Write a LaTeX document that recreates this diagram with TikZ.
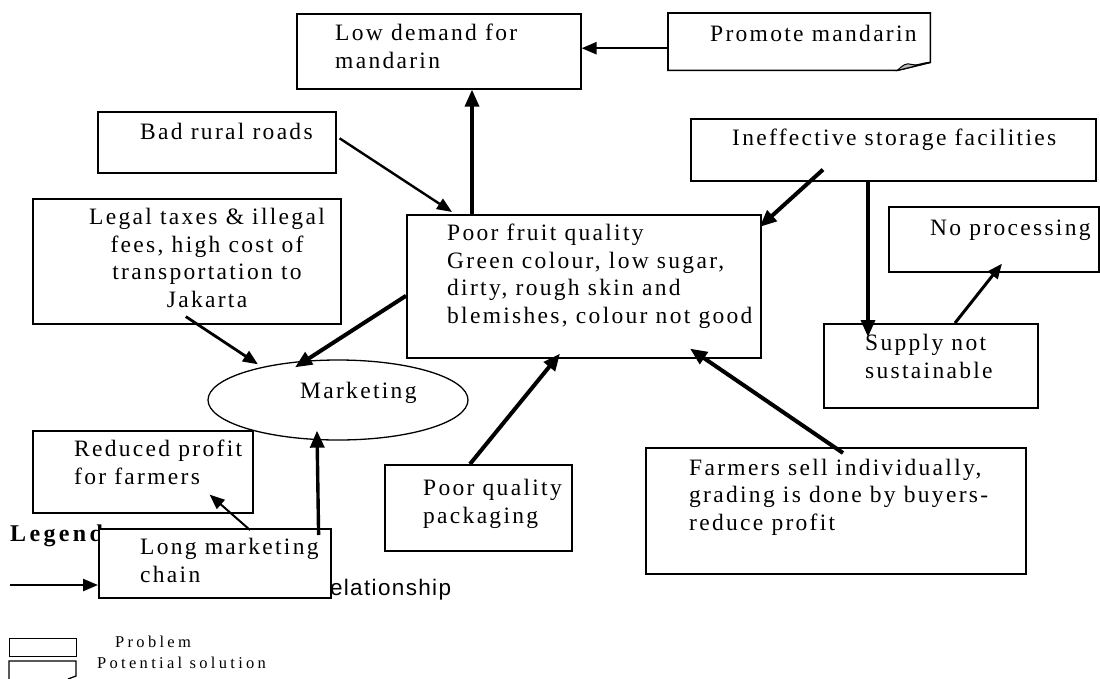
\documentclass[tikz,border=0pt]{standalone}
\usepackage{fontspec}
\setmainfont{Liberation Serif}[LetterSpace=9.8]
\newfontfamily\legfont{Liberation Serif}[LetterSpace=20]
\newfontfamily\legbold{Liberation Serif Bold}[LetterSpace=14]
\newfontfamily\relfont{Liberation Sans}[LetterSpace=6]
\usetikzlibrary{arrows.meta,shapes.geometric}

\tikzset{
  box/.style={draw, line width=1.6pt, fill=white, rectangle, inner sep=0pt, anchor=north west},
  txt/.style={inner sep=0pt, anchor=base west, align=left, font=\fontsize{23.5}{27.5}\selectfont},
  arr/.style={line width=2.4pt, -{Triangle[length=15pt,width=12pt]}},
  heavy/.style={line width=4pt, -{Triangle[length=17pt,width=14pt]}},
  legbox/.style={draw, line width=1.3pt},
}

\begin{document}
\begin{tikzpicture}[x=1pt,y=-1pt]
\useasboundingbox (0,0) rectangle (1100,678);

% legend texts (partly hidden behind the marketing-chain box)
\node[inner sep=0pt, anchor=base west, font=\legbold\fontsize{24}{27}\selectfont] (legend) at (10,541) {Legend};
\node[inner sep=0pt, anchor=base west, font=\relfont\fontsize{22.5}{26}\selectfont] (reltxt) at (321,595) {relationship};
\coordinate (legA) at (10,585);
\coordinate (legB) at (98,585);
\draw[arr] (legA) -- (legB);

% problem boxes (multi-line texts are placed by the baseline of their last line)
\node[box, minimum width=284pt, minimum height=75pt] (low) at (296,13) {};
\node[txt] (lowt) at (335,68) {\fontsize{23.5}{27}\selectfont Low demand for\\mandarin};

\node[minimum width=262pt, minimum height=57pt, inner sep=0pt, anchor=north west] (prom) at (668,13) {};
\draw[line width=1.6pt, fill=white] (prom.north west) -- (prom.north east) -- ([yshift=8pt]prom.south east)
  -- ([xshift=-33pt]prom.south east) -- (prom.south west) -- cycle;
\filldraw[fill=gray!55, line width=1pt] ([xshift=-33pt]prom.south east)
  .. controls ([shift={(-28pt,5pt)}]prom.south east) and ([shift={(-24pt,8pt)}]prom.south east) .. ([shift={(-19pt,6pt)}]prom.south east)
  .. controls ([shift={(-14pt,4pt)}]prom.south east) and ([shift={(-8pt,8pt)}]prom.south east) .. ([yshift=8pt]prom.south east) -- cycle;
\node[txt] (promt) at (710,41) {Promote mandarin};

\node[box, minimum width=238pt, minimum height=61pt] (bad) at (97,111) {};
\node[txt] (badt) at (140,139) {Bad rural roads};

\node[box, minimum width=405pt, minimum height=62pt] (ineff) at (690,118) {};
\node[txt] (inefft) at (732,145) {Ineffective storage facilities};

\node[box, minimum width=354pt, minimum height=143pt] (pf) at (406,214) {};
\node[txt] (pft) at (447,323) {Poor fruit quality\\Green colour, low sugar,\\dirty, rough skin and\\blemishes, colour not good};

\node[box, minimum width=308pt, minimum height=125pt] (legal) at (32,198) {};
\node[txt, anchor=base, align=center] (legalt) at (207,307) {Legal taxes \& illegal\\fees, high cost of\\transportation to\\Jakarta};

\node[box, minimum width=210pt, minimum height=65pt] (nop) at (888,206) {};
\node[txt] (nopt) at (930,235) {No processing};

\node[box, minimum width=214pt, minimum height=84pt] (sup) at (823,323) {};
\node[txt] (supt) at (865,378) {\fontsize{23.5}{26}\selectfont Supply not\\sustainable};

\node[draw, ellipse, line width=1.3pt, minimum width=260pt, minimum height=80pt, inner sep=0pt] (mkt) at (338,400) {};
\node[txt] (mktt) at (300,398) {Marketing};

\node[box, minimum width=220pt, minimum height=82pt] (red) at (32,430) {};
\node[txt] (redt) at (74,484) {\fontsize{23.5}{28}\selectfont Reduced profit\\for farmers};

\node[box, minimum width=232pt, minimum height=69pt] (lmc) at (98,528) {};
\node[txt] (lmct) at (140,582) {Long marketing\\chain};

\node[box, minimum width=187pt, minimum height=86pt] (pack) at (384,464) {};
\node[txt] (packt) at (423,523) {\fontsize{23.5}{30}\selectfont Poor quality\\packaging};

\node[box, minimum width=380pt, minimum height=126pt] (farm) at (645,447) {};
\node[txt] (farmt) at (689,530) {Farmers sell individually,\\grading is done by buyers-\\reduce profit};

% cause-effect connectors
\draw[arr] ([yshift=-6.5pt]prom.west) -- ([yshift=-6.5pt]prom.west -| low.east);
\draw[heavy, line width=3.4pt] ([xshift=176pt]low.south west |- pf.north) -- ([xshift=176pt]low.south west);
\draw[arr] ([shift={(3pt,4pt)}]bad.east) -- ([shift={(46pt,2pt)}]pf.north west);
\draw[heavy] ([shift={(133pt,12pt)}]ineff.south west) -- ([shift={(-2pt,-13pt)}]pf.north east);
\draw[heavy, line width=3.4pt] ([xshift=178pt]ineff.south west) -- ([shift={(45pt,-14pt)}]sup.north west);
\draw[arr, line width=3pt] ([xshift=132pt]sup.north west) -- ([shift={(114pt,9pt)}]nop.south west);
\draw[heavy] ([yshift=-9.5pt]pf.west) -- ([shift={(-43pt,-8pt)}]mkt.north);
\draw[arr, line width=2.8pt] ([shift={(-1pt,8pt)}]legal.south) -- ([shift={(-80pt,-5pt)}]mkt.north);
\draw[heavy, line width=3.4pt] ([shift={(-13pt,-7pt)}]lmc.north east) -- ([shift={(-21pt,10pt)}]mkt.south);
\draw[arr, line width=2pt] ([shift={(152pt,-2pt)}]lmc.north west) -- ([shift={(-44pt,19pt)}]red.south east);
\draw[heavy] ([xshift=86pt]pack.north west) -- ([shift={(154pt,5pt)}]pf.south west);
\draw[heavy] ([shift={(198pt,-6pt)}]farm.north west) -- ([shift={(284pt,10pt)}]pf.south west);

% legend symbols
\node[legbox, minimum width=67pt, minimum height=18pt, inner sep=0pt, anchor=north west] (legprob) at (9,638) {};
\node[inner sep=0pt, anchor=base west, font=\legfont\fontsize{16.5}{19}\selectfont] (legprobt) at (115,647) {Problem};
\coordinate (sol1) at (9,685);
\coordinate (sol2) at (76,661);
\draw[line width=1.3pt] (sol1) -- (sol1 |- sol2) -- (sol2) -- ++(0,15) -- ++(-8,3);
\node[inner sep=0pt, anchor=base west, font=\legfont\fontsize{16.5}{19}\selectfont] (legsolt) at (97,668) {Potential solution};
\end{tikzpicture}
\end{document}
